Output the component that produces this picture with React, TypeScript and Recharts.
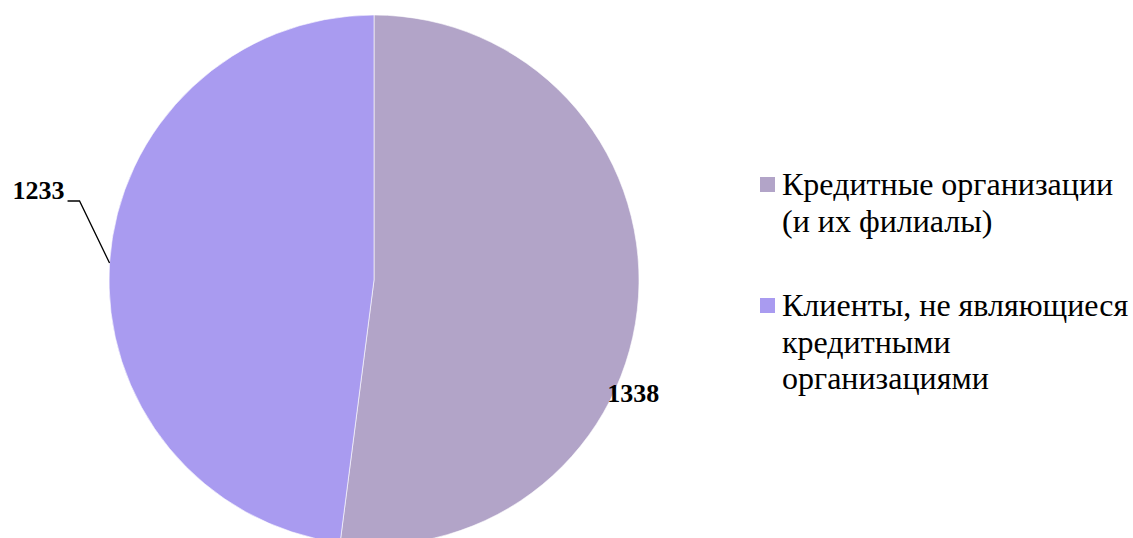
import { Cell, Pie, PieChart } from "recharts";

const CATEGORIES = [
  "Кредитные организации (и их филиалы)",
  "Клиенты, не являющиеся кредитными организациями",
];
const VALUES = [1338, 1233];
const COLORS = ["#B2A4C8", "#A99BF0"];

const data = CATEGORIES.map((name, i) => ({ name, value: VALUES[i] }));

const RAD = Math.PI / 180;
const FONT = '"Liberation Serif", serif';

function renderLabel(props: any) {
  const { cx, cy, midAngle, outerRadius, value, index } = props;
  if (index === 0) {
    // Excel "best fit": pushed down along the edge
    const a = midAngle - 20;
    const r = outerRadius + 18;
    const x = cx + r * Math.cos(-a * RAD);
    const y = cy + r * Math.sin(-a * RAD);
    return (
      <text
        x={x}
        y={y}
        textAnchor="middle"
        dominantBaseline="central"
        fontFamily={FONT}
        fontWeight="bold"
        fontSize={26}
        fill="#000"
      >
        {value}
      </text>
    );
  }
  const ex = cx + outerRadius * Math.cos(-midAngle * RAD);
  const ey = cy + outerRadius * Math.sin(-midAngle * RAD);
  const kx = ex - 30;
  const ky = ey - 62;
  const tx = kx - 12;
  return (
    <g>
      <polyline
        points={`${ex},${ey} ${kx},${ky} ${tx},${ky}`}
        fill="none"
        stroke="#000"
        strokeWidth={1.3}
      />
      <text
        x={tx - 3}
        y={ky - 2}
        textAnchor="end"
        fontFamily={FONT}
        fontWeight="bold"
        fontSize={26}
        fill="#000"
      >
        {value}
      </text>
    </g>
  );
}

function LegendBox() {
  return (
    <ul
      style={{
        position: "absolute",
        left: 760,
        top: 166,
        margin: 0,
        padding: 0,
        listStyle: "none",
        fontFamily: FONT,
      }}
    >
      {data.map((row, i) => (
        <li
          key={row.name}
          style={{
            display: "flex",
            alignItems: "flex-start",
            marginBottom: i === 0 ? 48 : 0,
          }}
        >
          <span
            style={{
              width: 15,
              height: 15,
              background: COLORS[i],
              flexShrink: 0,
              marginTop: 11,
              marginRight: 7,
            }}
          />
          <span
            style={{
              width: 351,
              fontFamily: FONT,
              fontSize: 32,
              lineHeight: "36.6px",
              color: "#000",
            }}
          >
            {row.name}
          </span>
        </li>
      ))}
    </ul>
  );
}

export default function App() {
  return (
    <div style={{ position: "absolute", left: 0, top: 0, width: 1133, height: 538, background: "#fff", fontFamily: FONT }}>
      <PieChart width={1133} height={538} margin={{ top: 0, right: 0, bottom: 0, left: 0 }}>
        <Pie
          data={data}
          dataKey="value"
          nameKey="name"
          cx={374}
          cy={280}
          outerRadius={265}
          startAngle={90}
          endAngle={-270}
          stroke="#fff"
          strokeWidth={0.6}
          label={renderLabel}
          labelLine={false}
          isAnimationActive={false}
        >
          {data.map((_, i) => (
            <Cell key={String(i)} fill={COLORS[i]} />
          ))}
        </Pie>
      </PieChart>
      <LegendBox />
    </div>
  );
}
